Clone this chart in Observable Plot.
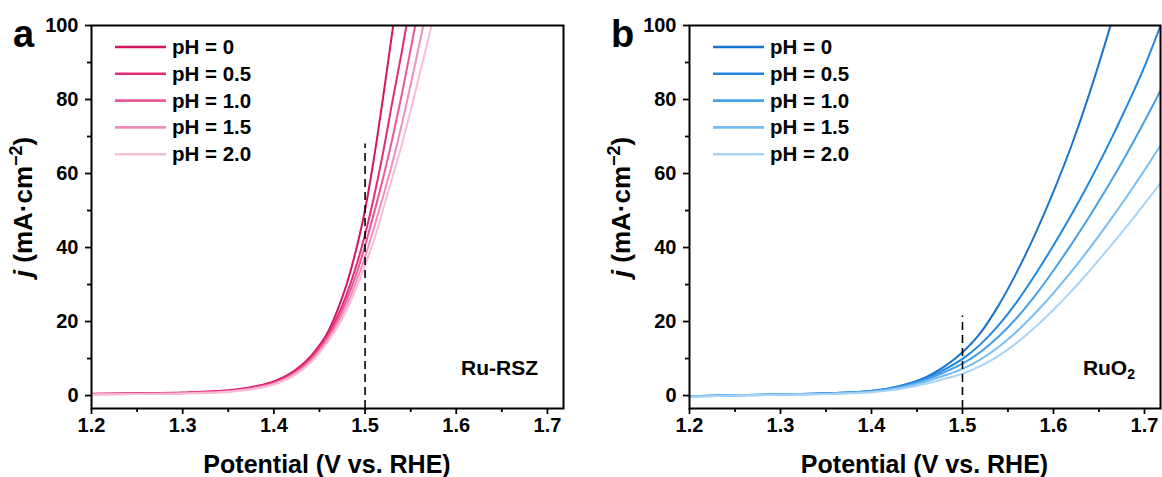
<!DOCTYPE html>
<html><head><meta charset="utf-8">
<script src="https://cdn.jsdelivr.net/npm/d3@7"></script>
<script src="https://cdn.jsdelivr.net/npm/@observablehq/plot@0.6"></script>
<style>
body{margin:0;background:#fff;}
#wrap{display:flex;width:1162px;height:477px;overflow:hidden;}
svg{overflow:visible;}
</style></head><body><div id="wrap"></div>
<script>
// ---------- data ----------
const phLabels = ["pH = 0", "pH = 0.5", "pH = 1.0", "pH = 1.5", "pH = 2.0"];
const pinkColors = ["#d4145f", "#e32c78", "#ea5796", "#f18dba", "#f7bdd7"];
const blueColors = ["#1a73cc", "#2087e0", "#45a0ea", "#78bdf1", "#aad4f5"];

const xMajor = [1.2, 1.3, 1.4, 1.5, 1.6, 1.7];
const xMinor = [1.25, 1.35, 1.45, 1.55, 1.65];
const yMajor = [0, 20, 40, 60, 80, 100];
const yMinor = [10, 30, 50, 70, 90];
const xDomain = [1.2, 1.7176];
const yDomain = [-3.5, 100];

// Panel a: Ru-RSZ
const potentialA = [1.20,1.25,1.30,1.35,1.38,1.40,1.42,1.44,1.46,1.47,1.48,1.49,1.50,1.51,1.52,1.53,1.54,1.55,1.56,1.57,1.58];
const rsz_pH0  = [0.5,0.6,0.8,1.4,2.5,3.8,6.3,10.5,17.5,23.2,30.2,39.2,50.2,64.5,81,98.5,116];
const rsz_pH05 = [0.4,0.5,0.7,1.3,2.3,3.5,5.9,10,16.8,21.5,27.5,34.8,43.5,54,66,79.5,92.5,106.5];
const rsz_pH1  = [0.4,0.5,0.7,1.2,2.2,3.4,5.7,9.6,16.2,20.5,26,32.5,40.5,49.5,59,69.5,81,93.5,106.5];
const rsz_pH15 = [0.3,0.4,0.6,1.1,2.0,3.2,5.4,9.2,15.4,19.5,24.5,30.5,37.5,45.5,54,63,73,84,95.5,107];
const rsz_pH2  = [0.3,0.4,0.5,1.0,1.9,3.0,5.1,8.8,14.8,18.6,23.2,28.8,35.2,42.2,50.5,59,67.5,77,87,97,107.5];

// Panel b: RuO2
const potentialB = [1.20,1.25,1.30,1.35,1.40,1.42,1.44,1.46,1.48,1.50,1.52,1.54,1.56,1.58,1.60,1.62,1.64,1.66,1.68,1.70,1.72];
const ruo2_pH0  = [-0.2,0.1,0.3,0.6,1.3,2.0,3.2,5.0,7.8,11.7,17,24.5,33.5,43.7,55.1,67.7,82,97.8,115];
const ruo2_pH05 = [-0.2,0.1,0.3,0.6,1.2,1.9,3.0,4.6,7.0,9.9,13.9,19.1,25.4,32.7,40.6,49.0,58.0,67.6,77.9,88.9,101.5];
const ruo2_pH1  = [-0.2,0.1,0.3,0.5,1.1,1.8,2.8,4.3,6.3,8.6,11.8,16.0,21.1,27.1,33.8,41.0,48.6,56.6,65.1,74.1,83.6];
const ruo2_pH15 = [-0.3,0.0,0.2,0.5,1.0,1.6,2.5,3.8,5.4,7.2,9.8,13.2,17.4,22.3,27.7,33.6,39.9,46.6,53.6,60.9,68.5];
const ruo2_pH2  = [-0.3,0.0,0.2,0.4,0.9,1.4,2.2,3.2,4.5,5.9,8.0,10.8,14.3,18.5,23.2,28.3,33.8,39.6,45.6,51.8,58.2];

const dashA = {potential: 1.5, top: 68};
const dashB = {potential: 1.5, top: 21.5};

// ---------- drawing ----------
const FONT = "'Liberation Sans', Arial, Helvetica, sans-serif";

function panel(o) {
  const data = o.series.flatMap((vals, i) =>
    vals.map((j, k) => ({V: o.grid[k], j, s: phLabels[i]})));
  const plot = Plot.plot({
    width: 581, height: 477,
    marginLeft: o.ml, marginRight: o.mr, marginTop: 25, marginBottom: 69,
    x: {domain: xDomain},
    y: {domain: yDomain},
    color: {domain: phLabels, range: o.colors},
    style: {fontFamily: FONT, fontWeight: "bold", fontSize: "20px", color: "black", background: "white", overflow: "visible"},
    marks: [
      Plot.lineY(data, {x: "V", y: "j", z: "s", stroke: "s", strokeWidth: 2, curve: "monotone-x", clip: "frame"}),
      Plot.ruleX([o.dash.potential], {y1: yDomain[0], y2: o.dash.top, stroke: "black", strokeWidth: 1.6, strokeDasharray: "8,5"}),
      Plot.axisX({ticks: xMajor, tickSize: 6, tickPadding: 3, tickFormat: d => d.toFixed(1), strokeWidth: 1.8, label: null}),
      Plot.axisX({ticks: xMinor, tickSize: 4, text: null, strokeWidth: 1.8, label: null}),
      Plot.axisY({ticks: yMajor, tickSize: 6, tickPadding: 7, strokeWidth: 1.8, label: null}),
      Plot.axisY({ticks: yMinor, tickSize: 4, text: null, strokeWidth: 1.8, label: null}),
      Plot.frame({stroke: "black", strokeWidth: 2})
    ]
  });
  const svg = d3.select(plot);
  const fr = {l: o.ml, r: 581 - o.mr, t: 25, b: 477 - 69};
  const txt = (sel) => sel.attr("font-family", FONT).attr("font-weight", "bold").attr("fill", "black");
  // panel letter
  txt(svg.append("text")).attr("x", fr.l - 78).attr("y", 47).attr("text-anchor", "start")
    .attr("font-size", 38).text(o.letter);
  // legend
  const lg = svg.append("g");
  phLabels.forEach((lab, i) => {
    const y = 47 + i * 26.8;
    lg.append("line").attr("x1", fr.l + 24).attr("x2", fr.l + 75).attr("y1", y).attr("y2", y)
      .attr("stroke", o.colors[i]).attr("stroke-width", 2.6);
    txt(lg.append("text")).attr("x", fr.l + 81).attr("y", y + 7).attr("text-anchor", "start")
      .attr("font-size", 20.5).text(lab);
  });
  // sample tag
  const tag = txt(svg.append("text")).attr("x", fr.r - 25).attr("y", 375).attr("text-anchor", "end")
    .attr("font-size", 21);
  tag.append("tspan").text(o.tag);
  if (o.tagSub) tag.append("tspan").attr("dy", 4).attr("font-size", 14).text(o.tagSub);
  // x title
  txt(svg.append("text")).attr("x", (fr.l + fr.r) / 2).attr("y", 473).attr("text-anchor", "middle")
    .attr("font-size", 25).text("Potential (V vs. RHE)");
  // y title
  const yl = txt(svg.append("text")).attr("transform", `translate(${fr.l - 59},207) rotate(-90)`)
    .attr("text-anchor", "middle").attr("font-size", 26);
  yl.append("tspan").attr("font-style", "italic").text("j");
  yl.append("tspan").text(" (mA·cm");
  yl.append("tspan").attr("dy", -10).attr("font-size", 18).text("−2");
  yl.append("tspan").attr("dy", 10).text(")");
  return plot;
}

const wrap = document.getElementById("wrap");
wrap.appendChild(panel({
  grid: potentialA, series: [rsz_pH0, rsz_pH05, rsz_pH1, rsz_pH15, rsz_pH2],
  colors: pinkColors, ml: 91, mr: 18, dash: dashA, letter: "a", tag: "Ru-RSZ"
}));
wrap.appendChild(panel({
  grid: potentialB, series: [ruo2_pH0, ruo2_pH05, ruo2_pH1, ruo2_pH15, ruo2_pH2],
  colors: blueColors, ml: 108, mr: 2, dash: dashB, letter: "b", tag: "RuO", tagSub: "2"
}));
</script></body></html>
